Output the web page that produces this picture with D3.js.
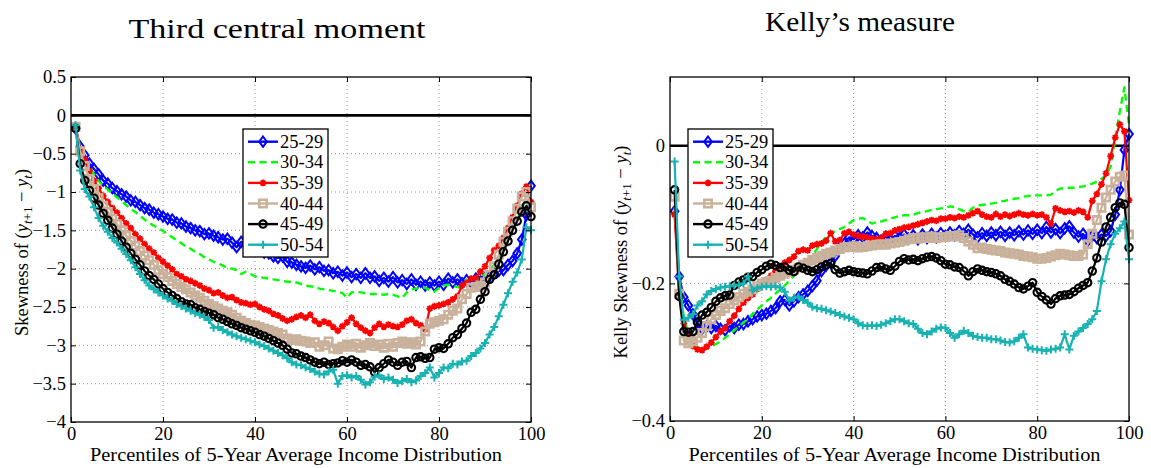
<!DOCTYPE html>
<html><head><meta charset="utf-8">
<script src="https://cdn.jsdelivr.net/npm/d3@7"></script>
<style>
body{margin:0;background:#fff;}
svg{display:block;}
</style></head><body>
<svg id="chart" width="1151" height="468"></svg>
<script>
// ---------- DATA ----------
const percentiles = d3.range(1, 101);
const ageGroups = ["25-29","30-34","35-39","40-44","45-49","50-54"];
const xTicks = [0,20,40,60,80,100];
const thirdYTicks = [0.5,0,-0.5,-1,-1.5,-2,-2.5,-3,-3.5,-4];
const kellyYTicks = [0,-0.2,-0.4];

// Third central moment, by age group (percentile 1..100)
const third2529 = [-0.17,-0.41,-0.52,-0.63,-0.70,-0.77,-0.85,-0.89,-0.95,-0.99,-1.03,-1.06,-1.11,-1.13,-1.17,-1.21,-1.23,-1.27,-1.29,-1.32,-1.35,-1.36,-1.40,-1.41,-1.45,-1.47,-1.50,-1.51,-1.55,-1.54,-1.57,-1.59,-1.62,-1.61,-1.66,-1.72,-1.65,-1.68,-1.72,-1.74,-1.76,-1.79,-1.80,-1.84,-1.86,-1.84,-1.91,-1.92,-1.95,-1.97,-1.99,-1.96,-2.01,-1.98,-2.03,-2.02,-2.06,-2.04,-2.09,-2.05,-2.11,-2.07,-2.12,-2.06,-2.12,-2.10,-2.16,-2.12,-2.17,-2.11,-2.18,-2.15,-2.20,-2.14,-2.21,-2.17,-2.22,-2.18,-2.22,-2.17,-2.21,-2.13,-2.18,-2.14,-2.19,-2.15,-2.18,-2.13,-2.17,-2.12,-2.10,-2.06,-2.03,-2.02,-1.95,-1.90,-1.80,-1.62,-1.30,-0.92];
const third3034 = [-0.15,-0.42,-0.55,-0.66,-0.77,-0.86,-0.92,-0.97,-1.02,-1.07,-1.12,-1.17,-1.22,-1.26,-1.31,-1.36,-1.40,-1.44,-1.47,-1.51,-1.55,-1.59,-1.63,-1.67,-1.71,-1.74,-1.78,-1.81,-1.85,-1.88,-1.91,-1.93,-1.96,-1.99,-2.00,-2.02,-2.07,-2.04,-2.07,-2.10,-2.11,-2.12,-2.13,-2.14,-2.15,-2.16,-2.17,-2.17,-2.18,-2.20,-2.22,-2.23,-2.24,-2.26,-2.27,-2.28,-2.29,-2.30,-2.32,-2.38,-2.31,-2.30,-2.31,-2.32,-2.33,-2.33,-2.33,-2.34,-2.33,-2.34,-2.36,-2.38,-2.31,-2.27,-2.26,-2.24,-2.25,-2.28,-2.30,-2.25,-2.22,-2.21,-2.22,-2.24,-2.25,-2.14,-2.15,-2.15,-2.12,-2.07,-2.02,-1.95,-1.86,-1.76,-1.64,-1.50,-1.37,-1.22,-1.06,-1.00];
const third3539 = [-0.15,-0.44,-0.58,-0.72,-0.85,-0.95,-1.05,-1.13,-1.21,-1.27,-1.34,-1.41,-1.47,-1.55,-1.61,-1.68,-1.74,-1.79,-1.86,-1.91,-1.96,-2.01,-2.07,-2.10,-2.14,-2.16,-2.19,-2.22,-2.26,-2.28,-2.32,-2.31,-2.35,-2.38,-2.37,-2.41,-2.44,-2.45,-2.47,-2.46,-2.50,-2.53,-2.55,-2.59,-2.61,-2.65,-2.68,-2.66,-2.63,-2.61,-2.64,-2.60,-2.68,-2.72,-2.69,-2.71,-2.76,-2.81,-2.75,-2.70,-2.64,-2.72,-2.77,-2.81,-2.84,-2.77,-2.72,-2.76,-2.73,-2.75,-2.76,-2.73,-2.68,-2.66,-2.71,-2.74,-2.79,-2.52,-2.49,-2.48,-2.46,-2.44,-2.40,-2.36,-2.22,-2.19,-2.13,-2.12,-2.04,-1.97,-1.86,-1.76,-1.70,-1.60,-1.47,-1.33,-1.18,-1.02,-0.93,-1.13];
const third4044 = [-0.15,-0.47,-0.66,-0.83,-0.96,-1.08,-1.18,-1.26,-1.35,-1.42,-1.50,-1.57,-1.64,-1.70,-1.77,-1.83,-1.89,-1.95,-2.02,-2.07,-2.11,-2.16,-2.20,-2.24,-2.27,-2.31,-2.35,-2.38,-2.42,-2.46,-2.49,-2.52,-2.55,-2.57,-2.60,-2.64,-2.68,-2.71,-2.73,-2.74,-2.76,-2.78,-2.80,-2.82,-2.84,-2.86,-2.91,-2.93,-2.92,-2.94,-2.95,-2.97,-2.96,-3.02,-3.00,-2.95,-3.04,-3.05,-3.02,-2.99,-3.02,-2.98,-3.03,-3.00,-2.97,-3.01,-2.99,-3.03,-2.98,-3.02,-2.97,-2.95,-2.98,-2.96,-2.99,-2.95,-2.82,-2.72,-2.70,-2.68,-2.66,-2.60,-2.55,-2.52,-2.40,-2.33,-2.25,-2.24,-2.22,-2.18,-2.08,-1.97,-1.82,-1.65,-1.52,-1.38,-1.22,-1.06,-1.00,-1.20];
const third4549 = [-0.17,-0.63,-0.85,-0.98,-1.08,-1.17,-1.28,-1.37,-1.47,-1.55,-1.64,-1.72,-1.80,-1.88,-1.95,-2.03,-2.09,-2.14,-2.20,-2.26,-2.31,-2.35,-2.39,-2.43,-2.46,-2.47,-2.51,-2.53,-2.56,-2.58,-2.60,-2.64,-2.66,-2.69,-2.72,-2.74,-2.77,-2.79,-2.81,-2.83,-2.86,-2.88,-2.91,-2.94,-2.97,-3.00,-3.05,-3.10,-3.11,-3.14,-3.16,-3.19,-3.22,-3.24,-3.22,-3.25,-3.24,-3.23,-3.20,-3.22,-3.19,-3.22,-3.26,-3.25,-3.28,-3.35,-3.29,-3.24,-3.19,-3.22,-3.26,-3.22,-3.21,-3.29,-3.16,-3.15,-3.17,-3.16,-3.05,-3.03,-3.04,-2.98,-2.90,-2.86,-2.78,-2.71,-2.57,-2.53,-2.40,-2.30,-2.14,-2.08,-1.94,-1.78,-1.64,-1.50,-1.38,-1.26,-1.18,-1.32];
const third5054 = [-0.13,-0.72,-0.96,-1.06,-1.20,-1.34,-1.44,-1.52,-1.60,-1.66,-1.74,-1.81,-1.89,-1.98,-2.07,-2.15,-2.22,-2.27,-2.31,-2.35,-2.39,-2.42,-2.46,-2.49,-2.52,-2.55,-2.58,-2.60,-2.63,-2.67,-2.77,-2.76,-2.80,-2.83,-2.86,-2.88,-2.90,-2.92,-2.94,-2.96,-2.99,-3.01,-3.04,-3.07,-3.10,-3.13,-3.17,-3.22,-3.25,-3.26,-3.29,-3.31,-3.34,-3.37,-3.38,-3.34,-3.32,-3.50,-3.40,-3.39,-3.42,-3.40,-3.45,-3.51,-3.48,-3.41,-3.39,-3.44,-3.42,-3.45,-3.49,-3.47,-3.44,-3.48,-3.46,-3.40,-3.36,-3.29,-3.42,-3.36,-3.29,-3.30,-3.24,-3.25,-3.21,-3.20,-3.14,-3.10,-3.04,-2.97,-2.86,-2.76,-2.62,-2.47,-2.32,-2.17,-2.05,-1.88,-1.46,-1.50];

// Kelly's measure, by age group (percentile 1..100)
const kelly2529 = [-0.095,-0.190,-0.220,-0.232,-0.245,-0.258,-0.266,-0.262,-0.265,-0.262,-0.266,-0.268,-0.262,-0.265,-0.260,-0.259,-0.255,-0.252,-0.248,-0.246,-0.244,-0.240,-0.236,-0.226,-0.224,-0.232,-0.226,-0.220,-0.216,-0.211,-0.204,-0.196,-0.182,-0.174,-0.170,-0.160,-0.148,-0.142,-0.133,-0.136,-0.130,-0.133,-0.126,-0.131,-0.134,-0.138,-0.132,-0.136,-0.131,-0.134,-0.129,-0.135,-0.130,-0.136,-0.129,-0.134,-0.128,-0.133,-0.127,-0.131,-0.126,-0.130,-0.124,-0.128,-0.122,-0.129,-0.133,-0.127,-0.131,-0.126,-0.130,-0.125,-0.131,-0.126,-0.130,-0.124,-0.129,-0.123,-0.128,-0.122,-0.127,-0.118,-0.126,-0.121,-0.127,-0.120,-0.117,-0.126,-0.132,-0.128,-0.138,-0.131,-0.134,-0.129,-0.131,-0.124,-0.100,-0.064,-0.006,0.017];
const kelly3034 = [-0.090,-0.200,-0.250,-0.272,-0.285,-0.293,-0.297,-0.295,-0.292,-0.288,-0.284,-0.279,-0.274,-0.268,-0.262,-0.257,-0.251,-0.245,-0.238,-0.232,-0.226,-0.221,-0.215,-0.209,-0.203,-0.196,-0.189,-0.182,-0.175,-0.168,-0.160,-0.150,-0.140,-0.133,-0.127,-0.124,-0.121,-0.118,-0.113,-0.108,-0.106,-0.105,-0.109,-0.113,-0.111,-0.110,-0.108,-0.106,-0.104,-0.102,-0.101,-0.101,-0.100,-0.098,-0.096,-0.095,-0.093,-0.092,-0.091,-0.090,-0.088,-0.089,-0.092,-0.095,-0.096,-0.090,-0.087,-0.086,-0.085,-0.084,-0.083,-0.081,-0.080,-0.078,-0.077,-0.076,-0.074,-0.073,-0.072,-0.072,-0.072,-0.072,-0.071,-0.066,-0.062,-0.062,-0.061,-0.061,-0.060,-0.059,-0.057,-0.055,-0.052,-0.048,-0.043,-0.030,0.010,0.050,0.085,0.030];
const kelly3539 = [-0.100,-0.218,-0.258,-0.275,-0.291,-0.296,-0.297,-0.292,-0.286,-0.278,-0.270,-0.265,-0.255,-0.247,-0.237,-0.228,-0.221,-0.216,-0.208,-0.202,-0.195,-0.189,-0.182,-0.176,-0.170,-0.166,-0.161,-0.153,-0.151,-0.152,-0.145,-0.143,-0.142,-0.138,-0.127,-0.139,-0.137,-0.127,-0.125,-0.129,-0.131,-0.132,-0.133,-0.135,-0.136,-0.134,-0.128,-0.127,-0.123,-0.121,-0.119,-0.118,-0.116,-0.114,-0.112,-0.110,-0.108,-0.109,-0.106,-0.106,-0.104,-0.105,-0.103,-0.104,-0.101,-0.098,-0.095,-0.100,-0.103,-0.104,-0.099,-0.103,-0.100,-0.102,-0.100,-0.098,-0.100,-0.101,-0.099,-0.101,-0.100,-0.104,-0.113,-0.091,-0.094,-0.096,-0.095,-0.097,-0.094,-0.096,-0.104,-0.080,-0.070,-0.056,-0.040,-0.015,0.012,0.031,0.021,-0.079];
const kelly4044 = [-0.074,-0.215,-0.283,-0.287,-0.284,-0.279,-0.272,-0.262,-0.252,-0.246,-0.240,-0.236,-0.230,-0.225,-0.220,-0.215,-0.212,-0.209,-0.204,-0.200,-0.198,-0.196,-0.192,-0.189,-0.186,-0.183,-0.180,-0.177,-0.173,-0.170,-0.166,-0.163,-0.160,-0.157,-0.155,-0.152,-0.150,-0.148,-0.147,-0.146,-0.148,-0.147,-0.146,-0.145,-0.144,-0.143,-0.144,-0.142,-0.141,-0.140,-0.138,-0.136,-0.134,-0.135,-0.133,-0.134,-0.132,-0.134,-0.133,-0.133,-0.131,-0.132,-0.130,-0.134,-0.139,-0.144,-0.149,-0.148,-0.150,-0.151,-0.152,-0.153,-0.155,-0.156,-0.157,-0.158,-0.160,-0.161,-0.162,-0.164,-0.164,-0.163,-0.161,-0.159,-0.157,-0.158,-0.159,-0.160,-0.160,-0.158,-0.143,-0.128,-0.108,-0.090,-0.075,-0.064,-0.052,-0.045,-0.043,-0.129];
const kelly4549 = [-0.064,-0.219,-0.270,-0.271,-0.270,-0.256,-0.246,-0.242,-0.235,-0.226,-0.221,-0.218,-0.217,-0.203,-0.198,-0.195,-0.191,-0.190,-0.184,-0.180,-0.175,-0.172,-0.174,-0.177,-0.176,-0.181,-0.183,-0.176,-0.178,-0.181,-0.183,-0.180,-0.176,-0.173,-0.171,-0.180,-0.185,-0.183,-0.181,-0.183,-0.184,-0.185,-0.186,-0.182,-0.177,-0.176,-0.179,-0.181,-0.175,-0.168,-0.164,-0.166,-0.165,-0.167,-0.164,-0.162,-0.161,-0.163,-0.167,-0.172,-0.173,-0.176,-0.177,-0.182,-0.189,-0.183,-0.179,-0.181,-0.183,-0.184,-0.186,-0.189,-0.194,-0.197,-0.201,-0.206,-0.208,-0.204,-0.199,-0.213,-0.219,-0.224,-0.230,-0.222,-0.218,-0.217,-0.216,-0.212,-0.207,-0.203,-0.199,-0.182,-0.163,-0.140,-0.118,-0.104,-0.090,-0.083,-0.085,-0.148];
const kelly5054 = [-0.023,-0.190,-0.253,-0.250,-0.245,-0.232,-0.226,-0.216,-0.211,-0.208,-0.206,-0.205,-0.204,-0.203,-0.202,-0.200,-0.190,-0.210,-0.207,-0.205,-0.204,-0.205,-0.204,-0.206,-0.212,-0.225,-0.221,-0.219,-0.224,-0.228,-0.234,-0.236,-0.237,-0.239,-0.241,-0.243,-0.246,-0.248,-0.250,-0.252,-0.258,-0.261,-0.262,-0.261,-0.262,-0.260,-0.258,-0.255,-0.252,-0.252,-0.255,-0.258,-0.259,-0.266,-0.272,-0.274,-0.270,-0.266,-0.264,-0.265,-0.272,-0.279,-0.274,-0.269,-0.272,-0.276,-0.278,-0.279,-0.279,-0.281,-0.281,-0.283,-0.285,-0.286,-0.284,-0.279,-0.274,-0.293,-0.295,-0.296,-0.297,-0.298,-0.296,-0.295,-0.293,-0.274,-0.296,-0.276,-0.270,-0.265,-0.259,-0.252,-0.240,-0.197,-0.165,-0.143,-0.128,-0.120,-0.110,-0.165];

// ---------- STYLE ----------
const FONT = '"Liberation Serif", "Times New Roman", serif';
const styles = [
  {color:"#0000ff", dash:null, marker:"diamond"},
  {color:"#00ff00", dash:"7,4.5", marker:null},
  {color:"#ff0000", dash:null, marker:"star"},
  {color:"#c9b19b", dash:null, marker:"square"},
  {color:"#000000", dash:null, marker:"circle"},
  {color:"#17b2b2", dash:null, marker:"plus"}
];
const markerPaths = {
  diamond:"M0,-5.2L3.8,0L0,5.2L-3.8,0Z",
  star:"M-3.4,0H3.4M0,-3.4V3.4M-2.4,-2.4L2.4,2.4M-2.4,2.4L2.4,-2.4",
  square:"M-3.7,-3.7H3.7V3.7H-3.7Z",
  circle:"M3.7,0A3.7,3.7 0 1,1 -3.7,0A3.7,3.7 0 1,1 3.7,0Z",
  plus:"M-4,0H4M0,-4V4"
};
const markerStroke = {diamond:2, star:1.8, square:2.6, circle:2.1, plus:2};

const svg = d3.select("#chart");
const fmt = v => (v < 0 ? "\u2212" : "") + Math.abs(v);

function drawPanel(p) {
  const x = d3.scaleLinear().domain([0,100]).range([p.left, p.right]);
  const y = d3.scaleLinear().domain(p.yDomain).range([p.bottom, p.top]);
  const g = svg.append("g");

  // grid
  const grid = g.append("g").attr("stroke","#8a8a8a").attr("stroke-width",0.9).attr("stroke-dasharray","1,3");
  grid.selectAll(".gx").data(xTicks.filter(t => t > 0 && t < 100)).join("line")
    .attr("x1", d => x(d)).attr("x2", d => x(d)).attr("y1", p.top).attr("y2", p.bottom);
  grid.selectAll(".gy").data(p.yTicks.filter(t => t > p.yDomain[0] && t < p.yDomain[1] && t !== 0)).join("line")
    .attr("y1", d => y(d)).attr("y2", d => y(d)).attr("x1", p.left).attr("x2", p.right);

  // zero line
  g.append("line").attr("x1", p.left).attr("x2", p.right).attr("y1", y(0)).attr("y2", y(0))
    .attr("stroke","#000").attr("stroke-width",2.6);

  // series
  const clipId = "clip" + p.id;
  svg.append("clipPath").attr("id", clipId).append("rect")
    .attr("x", p.left).attr("y", p.top - 2).attr("width", p.right - p.left + 6).attr("height", p.bottom - p.top + 4);
  const sg = g.append("g").attr("clip-path", `url(#${clipId})`);
  const line = d3.line().x(d => x(d[0])).y(d => y(d[1]));
  p.series.forEach((vals, i) => {
    const st = styles[i];
    const pts = percentiles.map((pc, k) => [pc, vals[k]]);
    sg.append("path").attr("d", line(pts)).attr("fill","none")
      .attr("stroke", st.color).attr("stroke-width", st.dash ? 2.4 : 2.2)
      .attr("stroke-dasharray", st.dash).attr("stroke-linejoin","round");
    if (st.marker) {
      sg.append("g").selectAll("path").data(pts).join("path")
        .attr("d", markerPaths[st.marker])
        .attr("transform", d => `translate(${x(d[0])},${y(d[1])})`)
        .attr("fill","none").attr("stroke", st.color)
        .attr("stroke-width", markerStroke[st.marker]);
    }
  });

  // axes (ticks inside)
  const ax = g.append("g");
  ax.append("g").attr("transform",`translate(0,${p.bottom})`)
    .call(d3.axisBottom(x).tickValues(xTicks).tickSize(-5).tickPadding(5).tickFormat(fmt));
  ax.append("g").attr("transform",`translate(0,${p.top})`)
    .call(d3.axisTop(x).tickValues(xTicks).tickSize(-5).tickFormat(""));
  ax.append("g").attr("transform",`translate(${p.left},0)`)
    .call(d3.axisLeft(y).tickValues(p.yTicks).tickSize(-5).tickPadding(5).tickFormat(fmt));
  ax.append("g").attr("transform",`translate(${p.right},0)`)
    .call(d3.axisRight(y).tickValues(p.yTicks).tickSize(-5).tickFormat(""));
  ax.selectAll(".domain").remove();
  ax.selectAll(".tick line").attr("stroke","#000").attr("stroke-width",1);
  ax.selectAll(".tick text").attr("font-size",18.5).attr("fill","#000");

  // frame
  g.append("rect").attr("x", p.left).attr("y", p.top)
    .attr("width", p.right - p.left).attr("height", p.bottom - p.top)
    .attr("fill","none").attr("stroke","#000").attr("stroke-width",1.3);

  // legend
  const lg = g.append("g").attr("transform",`translate(${p.legX},${p.legY})`);
  lg.append("rect").attr("x",0).attr("y",0).attr("width",85).attr("height",128)
    .attr("fill","#fff").attr("stroke","#000").attr("stroke-width",1.3);
  ageGroups.forEach((lab, i) => {
    const st = styles[i];
    const cy = 12.7 + i * 20.6;
    lg.append("line").attr("x1",5).attr("x2",35).attr("y1",cy).attr("y2",cy)
      .attr("stroke", st.color).attr("stroke-width", 2.4).attr("stroke-dasharray", st.dash);
    if (st.marker) {
      lg.append("path").attr("d", markerPaths[st.marker]).attr("transform",`translate(20,${cy})`)
        .attr("fill","none").attr("stroke", st.color).attr("stroke-width", markerStroke[st.marker]);
    }
    lg.append("text").attr("x",37).attr("y",cy + 6).attr("font-size",18.5).text(lab);
  });

  // x label
  g.append("text").attr("x", (p.left + p.right)/2 - 5).attr("y", 461)
    .attr("text-anchor","middle").attr("font-size",18.5)
    .attr("textLength", 412).attr("lengthAdjust","spacingAndGlyphs")
    .text("Percentiles of 5-Year Average Income Distribution");

  // y label
  const yl = g.append("text").attr("transform",`translate(${p.yLabX},${(p.top+p.bottom)/2 + 3}) rotate(-90)`)
    .attr("text-anchor","middle").attr("font-size",18.5);
  yl.append("tspan").text(p.yLabPrefix + "(");
  yl.append("tspan").attr("font-style","italic").text("y");
  yl.append("tspan").attr("font-size",13).attr("font-style","italic").attr("dy",4).text("t");
  yl.append("tspan").attr("font-size",13).text("+1");
  yl.append("tspan").attr("dy",-4).text(" \u2212 ");
  yl.append("tspan").attr("font-style","italic").text("y");
  yl.append("tspan").attr("font-size",13).attr("font-style","italic").attr("dy",4).text("t");
  yl.append("tspan").attr("dy",-4).text(")");

  // title
  g.append("text").attr("x", p.titleX).attr("y", p.titleY).attr("text-anchor","middle")
    .attr("font-size",27).attr("textLength", p.titleLen).attr("lengthAdjust","spacingAndGlyphs")
    .text(p.title);
}

drawPanel({
  id:"L", left:71, right:531, top:77, bottom:422,
  yDomain:[-4,0.5], yTicks:thirdYTicks,
  series:[third2529, third3034, third3539, third4044, third4549, third5054],
  legX:243, legY:129,
  yLabX:28, yLabPrefix:"Skewness of ",
  title:"Third central moment", titleX:277, titleY:38, titleLen:297
});
drawPanel({
  id:"R", left:670, right:1129, top:77, bottom:421,
  yDomain:[-0.4,0.1], yTicks:kellyYTicks,
  series:[kelly2529, kelly3034, kelly3539, kelly4044, kelly4549, kelly5054],
  legX:688, legY:129,
  yLabX:627, yLabPrefix:"Kelly Skewness of ",
  title:"Kelly\u2019s measure", titleX:860, titleY:31, titleLen:190
});

svg.selectAll("text").style("font-family", FONT).style("fill", "#000");
</script>
</body></html>
